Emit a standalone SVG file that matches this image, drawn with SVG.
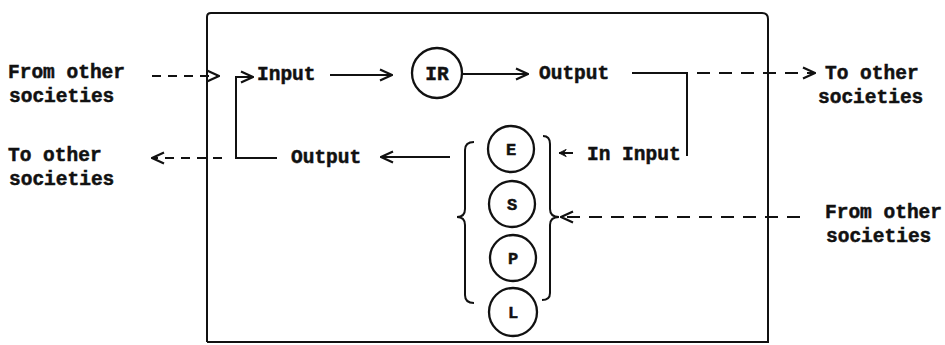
<svg xmlns="http://www.w3.org/2000/svg" width="945" height="345" viewBox="0 0 945 345">
  <style>
    text { font-family: "Liberation Mono", "DejaVu Sans Mono", monospace; font-weight: bold; font-size: 19.5px; fill: #111; stroke: #111; stroke-width: 0.5; }
    .small { font-size: 17px; }
    .line { fill: none; stroke: #111; stroke-width: 2; }
    .dash { fill: none; stroke: #111; stroke-width: 2; stroke-dasharray: 13 9; }
    .dash-short { fill: none; stroke: #111; stroke-width: 2; stroke-dasharray: 9 7; }
    .node { fill: none; stroke: #111; stroke-width: 2.3; }
  </style>
  <defs>
    <marker id="arrow" viewBox="0 0 14 14" refX="13" refY="7" markerWidth="14" markerHeight="14" markerUnits="userSpaceOnUse" orient="auto">
      <polyline points="1,1.5 13,7 1,12.5" fill="none" stroke="#111" stroke-width="2.2"/>
    </marker>
    <marker id="arrowSmall" viewBox="0 0 10 10" refX="9" refY="5" markerWidth="9" markerHeight="9" markerUnits="userSpaceOnUse" orient="auto">
      <polygon points="1,1 9,5 1,9 4,5" fill="#111" stroke="#111" stroke-width="1"/>
    </marker>
  </defs>

  <!-- system boundary -->
  <g id="boundary">
    <path class="line" d="M 207 342 V 17 Q 207 13 211 13 H 762 Q 768 13 768 19 V 342 H 207"/>
  </g>

  <!-- outside labels -->
  <g id="from-left">
    <text x="8" y="78">From other</text>
    <text x="9" y="102">societies</text>
  </g>
  <g id="to-left">
    <text x="8" y="161">To other</text>
    <text x="9" y="185">societies</text>
  </g>
  <g id="to-right">
    <text x="825" y="79">To other</text>
    <text x="818" y="103">societies</text>
  </g>
  <g id="from-right">
    <text x="825" y="218">From other</text>
    <text x="826" y="242">societies</text>
  </g>

  <!-- inner labels -->
  <g id="input-top"><text x="257" y="80">Input</text></g>
  <g id="output-top"><text x="539" y="79">Output</text></g>
  <g id="output-bottom"><text x="291" y="163">Output</text></g>
  <g id="in-input"><text x="587" y="160">In Input</text></g>

  <!-- central node -->
  <g id="IR">
    <circle class="node" cx="437" cy="73" r="25"/>
    <text x="437" y="80" text-anchor="middle">IR</text>
  </g>

  <!-- stacked nodes -->
  <g id="E">
    <circle class="node" cx="511" cy="149" r="23"/>
    <text class="small" x="511" y="155" text-anchor="middle">E</text>
  </g>
  <g id="S">
    <circle class="node" cx="512" cy="204" r="23"/>
    <text class="small" x="512" y="210" text-anchor="middle">S</text>
  </g>
  <g id="P">
    <circle class="node" cx="513" cy="258" r="23"/>
    <text class="small" x="513" y="264" text-anchor="middle">P</text>
  </g>
  <g id="L">
    <circle class="node" cx="513" cy="312" r="24"/>
    <text class="small" x="513" y="318" text-anchor="middle">L</text>
  </g>

  <!-- braces around the stack -->
  <g id="braces">
    <path class="line" d="M 474 142 Q 465 142 465 150 V 209 Q 465 217 457 217 Q 465 217 465 225 V 295 Q 465 303 474 303"/>
    <path class="line" d="M 543 136 Q 550 136 550 144 V 209 Q 550 217 559 217 Q 550 217 550 225 V 293 Q 550 300 542 300"/>
  </g>

  <!-- connectors -->
  <g id="connectors">
    <line class="dash-short" x1="152" y1="76" x2="219" y2="76" marker-end="url(#arrow)"/>
    <path class="line" d="M 277 158 H 236 V 77 H 253" marker-end="url(#arrow)"/>
    <line class="line" x1="330" y1="75" x2="392" y2="75" marker-end="url(#arrow)"/>
    <line class="line" x1="463" y1="74" x2="528" y2="74" marker-end="url(#arrow)"/>
    <path class="line" d="M 632 73 H 687 V 156"/>
    <line class="dash" x1="697" y1="73" x2="815" y2="73" marker-end="url(#arrow)"/>
    <line class="line" x1="450" y1="157" x2="381" y2="157" marker-end="url(#arrow)"/>
    <line class="dash-short" x1="222" y1="158" x2="152" y2="158" marker-end="url(#arrow)"/>
    <line class="dash" x1="800" y1="217" x2="561" y2="217" marker-end="url(#arrow)"/>
    <line class="line" x1="573" y1="153" x2="559" y2="153" marker-end="url(#arrowSmall)"/>
  </g>
</svg>
